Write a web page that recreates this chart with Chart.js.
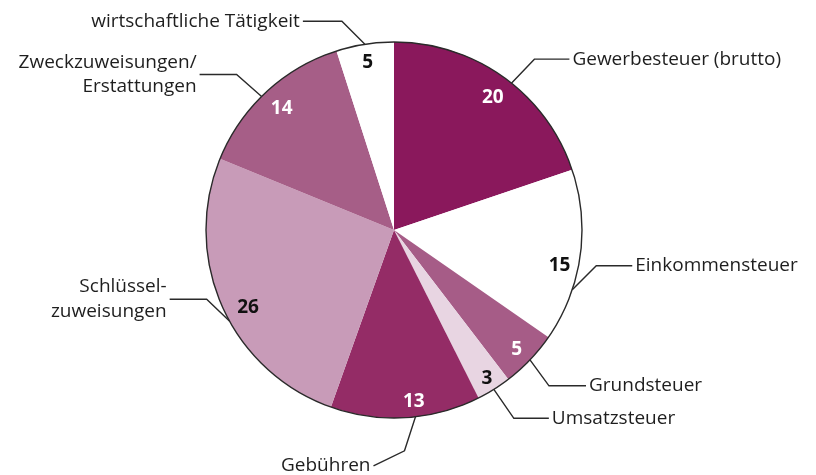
<!DOCTYPE html>
<html>
<head>
<meta charset="utf-8">
<script src="https://cdn.jsdelivr.net/npm/chart.js@4.4.1/dist/chart.umd.min.js"></script>
<style>
  html, body { margin: 0; padding: 0; background: #fff; }
  #wrap { width: 816px; height: 475px; position: relative; }
</style>
</head>
<body>
<div id="wrap"><canvas id="pie" width="816" height="475"></canvas></div>
<script>
// Data
const categories = [
    ['Gewerbesteuer (brutto)'],
    ['Einkommensteuer'],
    ['Grundsteuer'],
    ['Umsatzsteuer'],
    ['Gebühren'],
    ['Schlüssel-', 'zuweisungen'],
    ['Zweckzuweisungen/', 'Erstattungen'],
    ['wirtschaftliche Tätigkeit']
];
const values = [20, 15, 5, 3, 13, 26, 14, 5];

// Styles
const sliceColors = ['#8a185c', '#ffffff', '#a65c87', '#e8d5e2', '#942c66', '#c89bb8', '#a65e87', '#ffffff'];
const valueColors = ['#ffffff', '#111111', '#ffffff', '#111111', '#ffffff', '#111111', '#ffffff', '#111111'];

// Label layout: angle shift from slice middle (deg), leader segments, text side
const valueShift = [1, 4, 0.5, 0, -3, -4, 0, 0];
const valueRadius = [0.88, 0.9, 0.91, 0.93, 0.92, 0.88, 0.88, 0.9];
const leaderShift = [3, 10.5, 0, 0, -3, -5, -2, 0];
const leaderSegs = [
    [[23, -24], [35, 0]],
    [[24, -24], [36, 0]],
    [[19, 26], [37, 0]],
    [[20, 29], [35, 0]],
    [[-11, 34], [-31, 15]],
    [[-23, -22], [-37, 0]],
    [[-25, -22], [-37, 0]],
    [[-23, -23], [-39, 0]]
];
const labelFont = '19px "Open Sans", sans-serif';
const valueFont = 'bold 19px "Open Sans", sans-serif';
const lineHeight = 24.5;

const pieLabels = {
    id: 'pieLabels',
    afterDatasetsDraw(chart) {
        const ctx = chart.ctx;
        const arcs = chart.getDatasetMeta(0).data;
        if (!arcs.length) return;
        const cx = arcs[0].x;
        const cy = arcs[0].y;
        const R = arcs[0].outerRadius;
        const rad = d => d * Math.PI / 180;

        ctx.save();
        // outer outline
        ctx.beginPath();
        ctx.arc(cx, cy, R, 0, Math.PI * 2);
        ctx.lineWidth = 1.4;
        ctx.strokeStyle = '#2a2a2a';
        ctx.stroke();

        arcs.forEach((arc, i) => {
            const mid = (arc.startAngle + arc.endAngle) / 2;

            // value inside slice
            const va = mid + rad(valueShift[i]);
            const vr = R * valueRadius[i];
            ctx.font = valueFont;
            ctx.fillStyle = valueColors[i];
            ctx.textAlign = 'center';
            ctx.textBaseline = 'middle';
            ctx.fillText(String(values[i]), cx + vr * Math.cos(va), cy + vr * Math.sin(va));

            // leader line from the rim
            const la = mid + rad(leaderShift[i]);
            let x = cx + R * Math.cos(la);
            let y = cy + R * Math.sin(la);
            ctx.beginPath();
            ctx.moveTo(x, y);
            leaderSegs[i].forEach(s => {
                x += s[0];
                y += s[1];
                ctx.lineTo(x, y);
            });
            ctx.lineWidth = 1.4;
            ctx.strokeStyle = '#2a2a2a';
            ctx.stroke();

            // category text
            const segs = leaderSegs[i];
            const right = segs[segs.length - 1][0] > 0;
            const lines = categories[i];
            ctx.font = labelFont;
            ctx.fillStyle = '#1e1e1e';
            ctx.textAlign = right ? 'left' : 'right';
            ctx.textBaseline = 'middle';
            const tx = right ? x + 3 : x - 3;
            const top = y - (lines.length - 1) * lineHeight / 2;
            lines.forEach((t, k) => ctx.fillText(t, tx, top + k * lineHeight));
        });
        ctx.restore();
    }
};

new Chart(document.getElementById('pie'), {
    type: 'pie',
    data: {
        labels: categories,
        datasets: [{
            data: values,
            backgroundColor: sliceColors,
            borderWidth: 0,
            hoverOffset: 0,
            offset: 0
        }]
    },
    options: {
        responsive: false,
        animation: false,
        events: [],
        layout: {
            padding: { left: 206, right: 234, top: 42, bottom: 57 }
        },
        plugins: {
            legend: { display: false },
            tooltip: { enabled: false }
        }
    },
    plugins: [pieLabels]
});
</script>
</body>
</html>
